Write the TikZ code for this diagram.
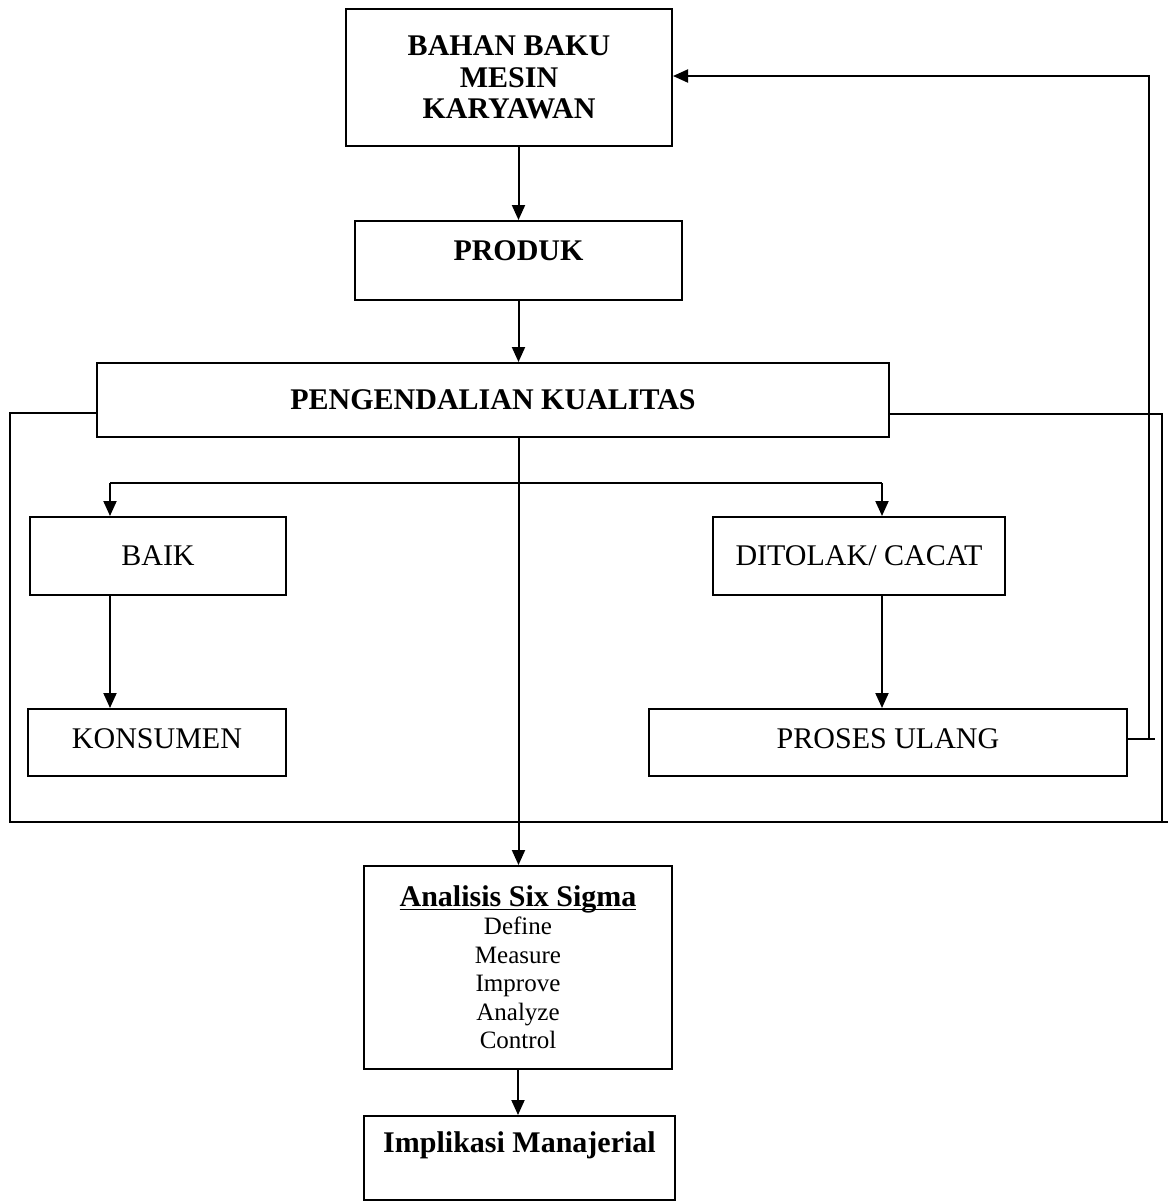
\documentclass[tikz,border=0pt]{standalone}
\usepackage{fontspec}
\setmainfont{Liberation Serif}
\usetikzlibrary{arrows.meta}

\tikzset{
  kotak/.style={draw, line width=0.8pt, inner sep=0pt, align=center, font=\fontsize{12}{12.6}\selectfont},
  panah/.style={line width=0.8pt, -{Triangle[length=6pt, width=5.2pt]}},
  garis/.style={line width=0.8pt}
}

\begin{document}
\begin{tikzpicture}[x=0.4pt, y=-0.4pt]
  \useasboundingbox (0,0) rectangle (1171,1201);

  % Kotak-kotak alur utama
  \node[kotak, minimum width=130.4pt, minimum height=54.8pt, font=\fontsize{12}{12.6}\selectfont\bfseries] (bahan) at (509,77.5) {BAHAN BAKU\\MESIN\\KARYAWAN};
  \node[kotak, minimum width=130.8pt, minimum height=31.6pt, font=\fontsize{12}{12.6}\selectfont\bfseries, text height=8pt, text depth=8pt] (produk) at (518.5,260.5) {PRODUK};
  \node[kotak, minimum width=316.8pt, minimum height=29.6pt, font=\fontsize{12}{12.6}\selectfont\bfseries] (kendali) at (493,400) {PENGENDALIAN KUALITAS};

  % Hasil pengendalian
  \node[kotak, minimum width=102.4pt, minimum height=31.2pt] (baik) at (158,556) {BAIK};
  \node[kotak, minimum width=116.8pt, minimum height=31.2pt] (tolak) at (859,556) {DITOLAK/ CACAT};
  \node[kotak, minimum width=103.2pt, minimum height=26.8pt, text height=8pt, text depth=3.6pt] (konsumen) at (157,742.5) {KONSUMEN};
  \node[kotak, minimum width=191.2pt, minimum height=26.8pt, text height=8pt, text depth=3.6pt] (ulang) at (888,742.5) {PROSES ULANG};

  % Analisis dan implikasi
  \node[kotak, minimum width=123.2pt, minimum height=81.2pt, font=\fontsize{10}{11.4}\selectfont] (sigma) at (518,967.5)
    {{\fontsize{12}{12.6}\selectfont\bfseries\underline{\smash{Analisis Six Sigma}}\vphantom{Ag}}\\Define\\Measure\\Improve\\Analyze\\Control};
  \node[kotak, minimum width=124.4pt, minimum height=33.6pt, font=\fontsize{12}{12.6}\selectfont\bfseries, text height=8pt, text depth=12.8pt] (implikasi) at (519.5,1158) {Implikasi Manajerial};

  % Panah alur utama
  \draw[panah] (bahan.south -| produk.north) -- (produk.north);
  \draw[panah] (produk.south) -- (produk.south |- kendali.north);
  \draw[panah] (produk.south |- kendali.south) -- (produk.south |- sigma.north);
  \draw[panah] (sigma.south) -- (sigma.south |- implikasi.north);

  % Percabangan baik / cacat
  \coordinate (cabangkiri) at (110,483);
  \coordinate (cabangkanan) at (882,483);
  \draw[garis] (cabangkiri) -- (cabangkanan);
  \draw[panah] (cabangkiri) -- (cabangkiri |- baik.north);
  \draw[panah] (cabangkanan) -- (cabangkanan |- tolak.north);
  \draw[panah] (baik.south -| cabangkiri) -- (konsumen.north -| cabangkiri);
  \draw[panah] (tolak.south -| cabangkanan) -- (ulang.north -| cabangkanan);

  % Bingkai pengendalian kualitas
  \draw[garis] (kendali.west |- 0,413) -- (10,413) -- (10,822) -- (1168,822);
  \draw[garis] (kendali.east |- 0,414) -- (1162,414) -- (1162,822);

  % Umpan balik proses ulang
  \draw[garis] (ulang.east |- 0,739) -- (1155,739);
  \draw[panah] (1149,739) -- (1149,76) -- (bahan.east |- 0,76);

\end{tikzpicture}
\end{document}
